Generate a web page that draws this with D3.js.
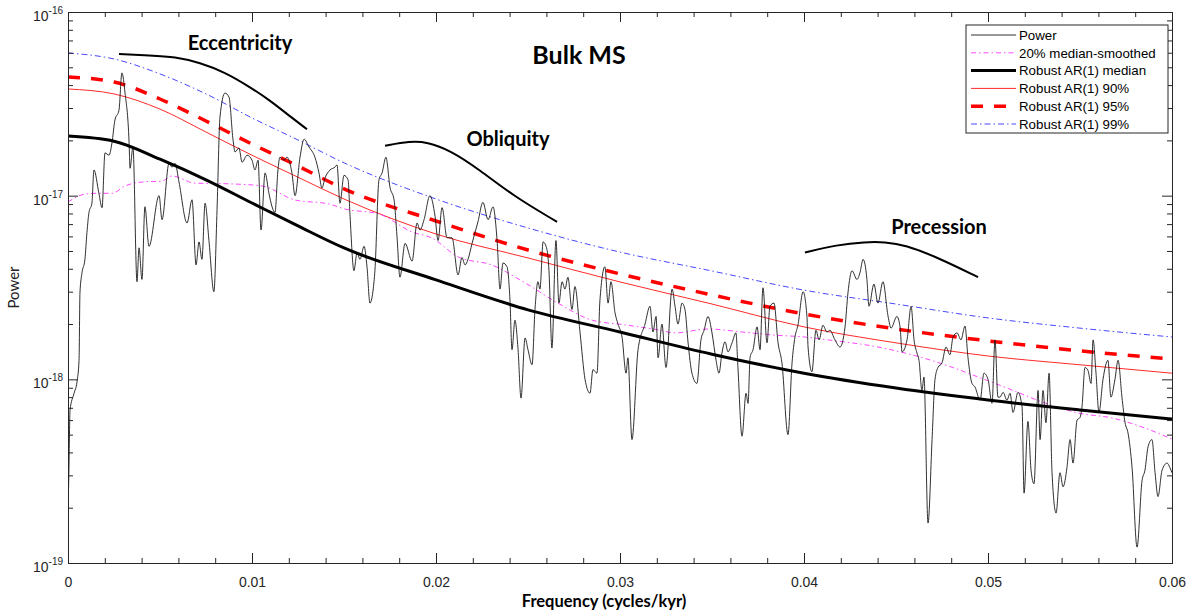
<!DOCTYPE html>
<html><head><meta charset="utf-8">
<script src="https://cdn.jsdelivr.net/npm/d3@7"></script>
<style>
body{margin:0;background:#fff;}
svg{display:block;}
</style>
</head><body>
<svg id="chart" width="1196" height="616"></svg>
<script>
// ---------- data ----------
const powerFreq = [0,0.00005,0.00011,0.00033,0.00049,0.00060,0.00065,0.00076,0.00092,0.00103,0.00114,0.00130,0.00141,0.00168,0.00185,0.00201,0.00223,0.00239,0.00255,0.00277,0.00293,0.00310,0.00332,0.00337,0.00353,0.00375,0.00386,0.00402,0.00418,0.00440,0.00495,0.00511,0.00549,0.00565,0.00582,0.00603,0.00647,0.00674,0.00696,0.00712,0.00728,0.00745,0.00766,0.00793,0.00810,0.00826,0.00853,0.00875,0.00897,0.00908,0.00929,0.00946,0.00973,0.01000,0.01016,0.01033,0.01049,0.01071,0.01092,0.01109,0.01125,0.01141,0.01152,0.01174,0.01190,0.01217,0.01234,0.01261,0.01283,0.01310,0.01342,0.01364,0.01380,0.01397,0.01424,0.01451,0.01462,0.01478,0.01500,0.01522,0.01533,0.01554,0.01571,0.01587,0.01609,0.01625,0.01641,0.01663,0.01668,0.01690,0.01707,0.01728,0.01750,0.01772,0.01788,0.01804,0.01832,0.01870,0.01897,0.01913,0.01935,0.01967,0.01995,0.02011,0.02033,0.02060,0.02087,0.02120,0.02141,0.02158,0.02174,0.02196,0.02212,0.02228,0.02255,0.02283,0.02310,0.02332,0.02348,0.02364,0.02386,0.02402,0.02413,0.02429,0.02446,0.02462,0.02484,0.02500,0.02522,0.02538,0.02554,0.02565,0.02582,0.02603,0.02614,0.02630,0.02652,0.02668,0.02685,0.02701,0.02717,0.02739,0.02755,0.02783,0.02810,0.02837,0.02853,0.02875,0.02891,0.02918,0.02935,0.02951,0.02973,0.02989,0.03011,0.03033,0.03043,0.03065,0.03098,0.03136,0.03163,0.03179,0.03196,0.03207,0.03228,0.03250,0.03283,0.03299,0.03315,0.03337,0.03353,0.03370,0.03391,0.03418,0.03440,0.03457,0.03478,0.03500,0.03522,0.03538,0.03554,0.03571,0.03587,0.03609,0.03630,0.03641,0.03663,0.03685,0.03696,0.03707,0.03723,0.03745,0.03761,0.03777,0.03799,0.03815,0.03837,0.03859,0.03880,0.03913,0.03935,0.03951,0.03967,0.03995,0.04016,0.04022,0.04043,0.04065,0.04082,0.04103,0.04125,0.04141,0.04168,0.04196,0.04223,0.04239,0.04261,0.04288,0.04304,0.04321,0.04342,0.04353,0.04380,0.04402,0.04429,0.04457,0.04473,0.04505,0.04522,0.04533,0.04560,0.04582,0.04598,0.04614,0.04625,0.04641,0.04652,0.04674,0.04696,0.04712,0.04728,0.04750,0.04772,0.04793,0.04810,0.04832,0.04853,0.04875,0.04891,0.04913,0.04929,0.04957,0.04978,0.05000,0.05022,0.05038,0.05054,0.05065,0.05082,0.05103,0.05120,0.05136,0.05163,0.05185,0.05196,0.05217,0.05234,0.05250,0.05272,0.05283,0.05299,0.05315,0.05332,0.05348,0.05370,0.05391,0.05408,0.05429,0.05446,0.05462,0.05484,0.05500,0.05511,0.05527,0.05543,0.05560,0.05571,0.05587,0.05603,0.05625,0.05652,0.05668,0.05690,0.05707,0.05728,0.05745,0.05761,0.05783,0.05810,0.05837,0.05853,0.05870,0.05891,0.05908,0.05924,0.05946,0.05973,0.05989,0.06000];
const powerValue = [1.83e-19,3.2e-19,6.8e-19,8.4e-19,9.7e-19,1.27e-18,2.96e-18,3.8e-18,4.5e-18,6.3e-18,8.1e-18,9.1e-18,1.38e-17,1.03e-17,8.6e-18,1.71e-17,1.66e-17,1.94e-17,2.58e-17,2.92e-17,4.66e-17,3.62e-17,1.94e-17,1.41e-17,1.84e-17,3.4e-18,5.2e-18,3.5e-18,8.7e-18,5.3e-18,1.0e-17,7.4e-18,1.50e-17,1.43e-17,1.50e-17,1.19e-17,7.1e-18,9.5e-18,4.2e-18,5.6e-18,4.5e-18,9.1e-18,5.7e-18,3.0e-18,8.4e-18,2.68e-17,3.62e-17,3.44e-17,2.01e-17,1.73e-17,1.82e-17,1.52e-17,1.66e-17,1.56e-17,1.38e-17,1.56e-17,6.5e-18,1.33e-17,1.03e-17,8.7e-18,8.1e-18,1.38e-17,1.62e-17,1.56e-17,1.62e-17,1.33e-17,1.0e-17,1.62e-17,2.03e-17,1.84e-17,1.62e-17,1.33e-17,1.10e-17,1.25e-17,1.38e-17,1.43e-17,1.47e-17,9.1e-18,1.29e-17,1.22e-17,7.7e-18,3.9e-18,4.9e-18,4.5e-18,5.3e-18,4.1e-18,2.6e-18,3.4e-18,3.9e-18,1.22e-17,1.33e-17,1.62e-17,1.11e-17,9.5e-18,6.0e-18,3.6e-18,5.5e-18,4.4e-18,7.1e-18,6.5e-18,7.4e-18,1.0e-17,7.7e-18,5.7e-18,8.6e-18,5.9e-18,5.9e-18,3.7e-18,4.6e-18,4.2e-18,4.5e-18,5.5e-18,6.3e-18,7.2e-18,9.2e-18,7.4e-18,8.7e-18,5.7e-18,3.1e-18,4.3e-18,4.1e-18,2.7e-18,1.45e-18,2.1e-18,1.45e-18,7.9e-19,1.68e-18,1.45e-18,1.20e-18,2.4e-18,3.4e-18,3.1e-18,5.6e-18,5.1e-18,3.9e-18,1.48e-18,5.7e-18,2.6e-18,3.4e-18,3.1e-18,3.6e-18,2.4e-18,3.2e-18,1.79e-18,1.0e-18,8.4e-19,1.13e-18,1.08e-18,2.7e-18,4.1e-18,2.6e-18,3.4e-18,2.3e-18,2.0e-18,1.70e-18,1.08e-18,1.31e-18,4.7e-19,1.45e-18,2.0e-18,2.5e-18,1.81e-18,2.2e-18,1.31e-18,2.0e-18,1.16e-18,3.1e-18,2.5e-18,2.0e-18,2.6e-18,2.4e-18,1.58e-18,1.08e-18,9.5e-19,1.64e-18,1.85e-18,2.2e-18,1.79e-18,1.27e-18,1.08e-18,1.39e-18,1.60e-18,1.41e-18,1.58e-18,1.79e-18,1.16e-18,4.9e-19,8.4e-19,7.4e-19,1.32e-18,1.45e-18,1.93e-18,1.45e-18,3.15e-18,1.58e-18,2.5e-18,2.6e-18,1.58e-18,1.23e-18,5.0e-19,1.23e-18,1.70e-18,1.97e-18,3.0e-18,2.2e-18,1.50e-18,1.10e-18,1.85e-18,1.64e-18,1.97e-18,1.81e-18,1.85e-18,1.64e-18,1.50e-18,1.93e-18,2.96e-18,3.9e-18,3.5e-18,3.8e-18,4.5e-18,3.5e-18,2.5e-18,3.3e-18,2.6e-18,3.4e-18,2.2e-18,1.90e-18,2.2e-18,1.93e-18,1.41e-18,1.64e-18,2.5e-18,1.64e-18,1.39e-18,1.27e-18,8.7e-19,1.03e-18,1.65e-19,4.7e-19,1.0e-18,1.16e-18,1.23e-18,1.50e-18,1.36e-18,1.70e-18,1.79e-18,1.64e-18,1.95e-18,1.32e-18,9.5e-19,9.1e-19,7.7e-19,1.08e-18,1.0e-18,7.4e-19,1.64e-18,8.0e-19,8.0e-19,8.5e-19,7.7e-19,8.4e-19,6.6e-19,8.5e-19,7.1e-19,2.4e-19,5.9e-19,3.2e-19,2.7e-19,8.7e-19,4.7e-19,8.7e-19,5.8e-19,1.08e-18,3.1e-19,1.87e-19,3.1e-19,2.6e-19,3.3e-19,4.7e-19,3.5e-19,6.0e-19,6.2e-19,7.1e-19,1.16e-18,1.12e-18,9.5e-19,1.64e-18,1.08e-18,6.6e-19,1.0e-18,1.27e-18,8.0e-19,1.0e-18,1.27e-18,8.0e-19,5.8e-19,5.1e-19,3.3e-19,1.22e-19,2.8e-19,3.2e-19,4.3e-19,4.7e-19,3.1e-19,2.3e-19,3.2e-19,3.5e-19,3.3e-19,3.1e-19];

const smoothFreq = [0,0.00076,0.00147,0.00239,0.00310,0.00418,0.00511,0.00565,0.00690,0.00875,0.01054,0.01234,0.01418,0.01505,0.01690,0.01870,0.01978,0.02120,0.02304,0.02484,0.02663,0.02848,0.03027,0.03207,0.03299,0.03478,0.03663,0.03842,0.04005,0.04130,0.04402,0.04587,0.04766,0.04946,0.05130,0.05310,0.05489,0.05674,0.05853,0.06000];
const smoothValue = [9.23e-18,1.01e-17,1.03e-17,1.03e-17,1.13e-17,1.19e-17,1.20e-17,1.28e-17,1.17e-17,1.16e-17,1.13e-17,9.47e-18,9.01e-18,8.46e-18,7.95e-18,6.34e-18,5.88e-18,4.64e-18,4.19e-18,3.35e-18,2.60e-18,2.10e-18,1.98e-18,1.86e-18,1.79e-18,1.88e-18,1.81e-18,1.74e-18,1.70e-18,1.64e-18,1.50e-18,1.36e-18,1.20e-18,1.03e-18,8.75e-19,7.43e-19,6.56e-19,6.16e-19,5.43e-19,4.73e-19];

const arFreq   = [0,0.0025,0.005,0.0075,0.01,0.0125,0.015,0.02,0.025,0.03,0.035,0.04,0.045,0.05,0.055,0.06];
const arMedian = [2.11e-17,1.98e-17,1.58e-17,1.22e-17,9.12e-18,6.84e-18,5.19e-18,3.48e-18,2.39e-18,1.81e-18,1.37e-18,1.08e-18,8.97e-19,7.72e-19,6.81e-19,6.08e-19];
const ar90     = [3.81e-17,3.58e-17,2.96e-17,2.22e-17,1.66e-17,1.26e-17,9.59e-18,6.18e-18,4.58e-18,3.39e-18,2.57e-18,1.93e-18,1.58e-18,1.34e-18,1.20e-18,1.08e-18];
const ar95     = [4.43e-17,4.16e-17,3.36e-17,2.55e-17,1.91e-17,1.45e-17,1.09e-17,7.28e-18,5.06e-18,3.75e-18,2.88e-18,2.27e-18,1.88e-18,1.62e-18,1.43e-18,1.29e-18];
const ar99     = [5.98e-17,5.55e-17,4.60e-17,3.58e-17,2.65e-17,2.01e-17,1.51e-17,9.59e-18,6.67e-18,4.93e-18,3.89e-18,3.06e-18,2.57e-18,2.16e-18,1.90e-18,1.70e-18];

const eccFreq  = [0.00277,0.00446,0.00582,0.00717,0.00853,0.00989,0.01098,0.01207,0.01299];
const eccValue = [5.9e-17,5.8e-17,5.7e-17,5.3e-17,4.7e-17,3.9e-17,3.3e-17,2.7e-17,2.3e-17];
const oblFreq  = [0.01723,0.01859,0.01951,0.02076,0.02239,0.02418,0.02658];
const oblValue = [1.87e-17,1.98e-17,1.96e-17,1.77e-17,1.38e-17,1.0e-17,7.2e-18];
const preFreq  = [0.04005,0.04179,0.04332,0.04440,0.04549,0.04728,0.04946];
const preValue = [4.9e-18,5.4e-18,5.6e-18,5.6e-18,5.4e-18,4.6e-18,3.6e-18];

const xTickValues = [0,0.01,0.02,0.03,0.04,0.05,0.06];
const xTickLabels = ["0","0.01","0.02","0.03","0.04","0.05","0.06"];
const yTickExponents = [-16,-17,-18,-19];
const legendLabels = ["Power","20% median-smoothed","Robust AR(1) median","Robust AR(1) 90%","Robust AR(1) 95%","Robust AR(1) 99%"];
const titleText = "Bulk MS";
const xLabel = "Frequency (cycles/kyr)";
const yLabel = "Power";

// ---------- layout ----------
const W = 1196, H = 616;
const m = {left: 68, right: 24, top: 12, bottom: 53};
const iw = W - m.left - m.right, ih = H - m.top - m.bottom;
const svg = d3.select("#chart");
const axisColor = "#262626";
const fontSans = "'Liberation Sans', Arial, sans-serif";
const fontBold = "Lato, 'Open Sans', sans-serif";

const x = d3.scaleLinear().domain([0, 0.06]).range([m.left, m.left + iw]);
const y = d3.scaleLog().domain([1e-19, 1e-16]).range([m.top + ih, m.top]);

svg.append("defs").append("clipPath").attr("id", "clip")
  .append("rect").attr("x", m.left).attr("y", m.top).attr("width", iw).attr("height", ih);

const plot = svg.append("g").attr("clip-path", "url(#clip)");

function makeLine(fr, vals, curve) {
  return d3.line().x((d, i) => x(fr[i])).y((d, i) => y(vals[i])).curve(curve)(vals);
}

const styles = [
  {stroke: "#1a1a1a", width: 0.9, dash: null},
  {stroke: "#ff33ff", width: 0.9, dash: "5,3,1.5,3"},
  {stroke: "#000000", width: 3, dash: null},
  {stroke: "#ff2a2a", width: 1, dash: null},
  {stroke: "#ff0000", width: 3.5, dash: "12,11"},
  {stroke: "#3333ff", width: 0.9, dash: "6,3,1.5,3"}
];

const series = [
  [arFreq, ar99, 5],
  [arFreq, ar90, 3],
  [arFreq, ar95, 4],
  [smoothFreq, smoothValue, 1],
  [powerFreq, powerValue, 0],
  [arFreq, arMedian, 2]
];
series.forEach(([fr, vals, si]) => {
  const s = styles[si];
  plot.append("path").attr("d", makeLine(fr, vals, d3.curveMonotoneX))
    .attr("fill", "none").attr("stroke", s.stroke).attr("stroke-width", s.width)
    .attr("stroke-dasharray", s.dash).attr("stroke-linejoin", "round");
});

// annotation arcs
[[eccFreq, eccValue], [oblFreq, oblValue], [preFreq, preValue]].forEach(([fr, vals]) => {
  svg.append("path").attr("d", makeLine(fr, vals, d3.curveBasis))
    .attr("fill", "none").attr("stroke", "#000").attr("stroke-width", 2);
});

// ---------- axes ----------
const yMinor = [];
[-19, -18, -17].forEach(e => { for (let k = 2; k <= 9; k++) yMinor.push(k * Math.pow(10, e)); });
const yMajor = yTickExponents.map(e => Math.pow(10, e));
const xMinor = d3.range(0, 31).map(i => i * 0.002).filter(v => !xTickValues.some(t => Math.abs(t - v) < 1e-9));

function drawAxis(gen, transform) {
  const g = svg.append("g").attr("transform", transform).call(gen);
  g.select(".domain").attr("stroke", axisColor).attr("stroke-width", 1);
  g.selectAll(".tick line").attr("stroke", axisColor).attr("stroke-width", 1);
  return g;
}

// bottom
const gb = drawAxis(d3.axisBottom(x).tickValues(xTickValues).tickSize(-10).tickPadding(14)
  .tickFormat((d, i) => xTickLabels[i]), `translate(0,${m.top + ih})`);
gb.selectAll("text").attr("fill", axisColor).attr("font-size", 14).attr("font-family", fontSans);
drawAxis(d3.axisBottom(x).tickValues(xMinor).tickSize(-5).tickFormat(""), `translate(0,${m.top + ih})`);
// top
drawAxis(d3.axisTop(x).tickValues(xTickValues).tickSize(-10).tickFormat(""), `translate(0,${m.top})`);
drawAxis(d3.axisTop(x).tickValues(xMinor).tickSize(-5).tickFormat(""), `translate(0,${m.top})`);
// left
drawAxis(d3.axisLeft(y).tickValues(yMajor).tickSize(-10).tickFormat(""), `translate(${m.left},0)`);
drawAxis(d3.axisLeft(y).tickValues(yMinor).tickSize(-5).tickFormat(""), `translate(${m.left},0)`);
// right
drawAxis(d3.axisRight(y).tickValues(yMajor).tickSize(-10).tickFormat(""), `translate(${m.left + iw},0)`);
drawAxis(d3.axisRight(y).tickValues(yMinor).tickSize(-5).tickFormat(""), `translate(${m.left + iw},0)`);

// y tick labels with superscripts
yTickExponents.forEach(e => {
  const t = svg.append("text").attr("x", m.left - 5).attr("y", y(Math.pow(10, e)) + 9)
    .attr("text-anchor", "end").attr("fill", axisColor).attr("font-family", fontSans).attr("font-size", 14);
  t.append("tspan").text("10");
  t.append("tspan").attr("font-size", 10).attr("dy", -7).text(String(e));
});

// axis labels
svg.append("text").attr("x", 604).attr("y", 607)
  .attr("text-anchor", "middle").attr("font-family", fontBold).attr("font-weight", 700)
  .attr("font-size", 16.5).attr("fill", "#000").text(xLabel);
svg.append("text").attr("transform", `translate(19,${m.top + ih / 2}) rotate(-90)`)
  .attr("text-anchor", "middle").attr("font-family", fontBold)
  .attr("font-size", 15).attr("fill", "#222").text(yLabel);

// title and annotation labels
svg.append("text").attr("x", 579).attr("y", 64).attr("text-anchor", "middle")
  .attr("font-family", fontBold).attr("font-weight", 700).attr("font-size", 25).attr("fill", "#000").text(titleText);
const annot = [["Eccentricity", 240, 50], ["Obliquity", 508, 146], ["Precession", 939, 234]];
annot.forEach(([t, ax, ay]) => {
  svg.append("text").attr("x", ax).attr("y", ay).attr("text-anchor", "middle")
    .attr("font-family", fontBold).attr("font-weight", 700).attr("font-size", 20).attr("fill", "#000").text(t);
});

// ---------- legend ----------
const lg = svg.append("g");
const lx = 966, ly = 25, lw = 202, lh = 108;
lg.append("rect").attr("x", lx).attr("y", ly).attr("width", lw).attr("height", lh)
  .attr("fill", "#fff").attr("stroke", axisColor).attr("stroke-width", 1);
legendLabels.forEach((lab, i) => {
  const yy = ly + 10 + i * 17.8;
  const s = styles[i];
  lg.append("line").attr("x1", lx + 5).attr("x2", lx + 50).attr("y1", yy).attr("y2", yy)
    .attr("stroke", s.stroke).attr("stroke-width", s.width).attr("stroke-dasharray", s.dash);
  lg.append("text").attr("x", lx + 53).attr("y", yy + 4.8).attr("font-family", fontSans)
    .attr("font-size", 13.3).attr("fill", "#000").text(lab);
});
</script>
</body></html>
